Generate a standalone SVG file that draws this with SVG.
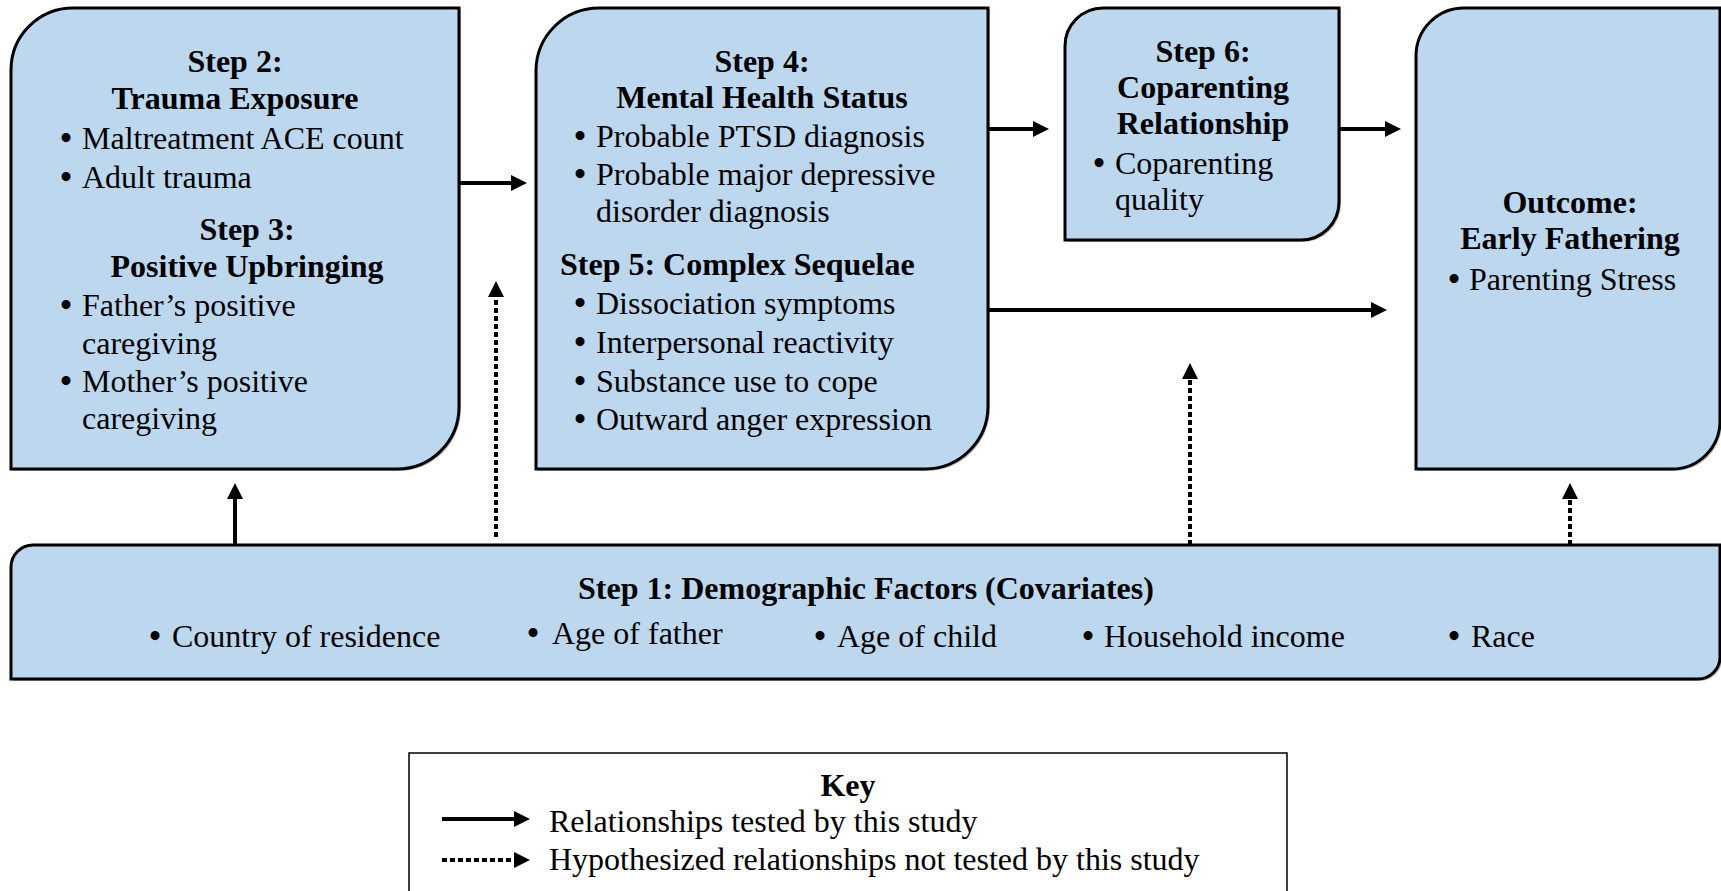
<svg xmlns="http://www.w3.org/2000/svg" width="1721" height="891" viewBox="0 0 1721 891">
<style>
.box{fill:#BDD7EE;stroke:#000;stroke-width:3}
.sh{fill:#7f7f7f;opacity:.55}
.h{font-family:"Liberation Serif","Times New Roman",serif;font-size:32px;font-weight:bold;text-anchor:middle;fill:#000}
.hs{font-family:"Liberation Serif","Times New Roman",serif;font-size:32px;font-weight:bold;fill:#000}
.t{font-family:"Liberation Serif","Times New Roman",serif;font-size:32px;fill:#000}
.b{font-family:"Liberation Serif","Times New Roman",serif;font-size:33px;font-weight:bold;text-anchor:middle;fill:#000}
.c{stroke:#000;stroke-width:4;fill:none}
.d{stroke-dasharray:5 3}
</style>
<defs>
<marker id="ah" viewBox="0 0 16 16" refX="2" refY="8" markerWidth="16" markerHeight="16" markerUnits="userSpaceOnUse" orient="auto">
<path d="M0,0 L16,8 L0,16 Z" fill="#000"/>
</marker>
</defs>
<rect x="0" y="0" width="1721" height="891" fill="#fff"/>

<g id="step2-3">
<path class="sh" transform="translate(2,2)" d="M11,70 A62,62 0 0 1 73,8 L459,8 L459,407 A62,62 0 0 1 397,469 L11,469 Z"/>
<path class="box" d="M11,70 A62,62 0 0 1 73,8 L459,8 L459,407 A62,62 0 0 1 397,469 L11,469 Z"/>
<text class="h" x="235" y="72">Step 2:</text>
<text class="h" x="235" y="109">Trauma Exposure</text>
<text class="b" x="66" y="149">•</text><text class="t" x="82" y="149">Maltreatment ACE count</text>
<text class="b" x="66" y="188">•</text><text class="t" x="82" y="188">Adult trauma</text>
<text class="h" x="247" y="240">Step 3:</text>
<text class="h" x="247" y="277">Positive Upbringing</text>
<text class="b" x="66" y="316">•</text><text class="t" x="82" y="316">Father’s positive</text>
<text class="t" x="82" y="354">caregiving</text>
<text class="b" x="66" y="392">•</text><text class="t" x="82" y="392">Mother’s positive</text>
<text class="t" x="82" y="429">caregiving</text>
</g>

<g id="step4-5">
<path class="sh" transform="translate(2,2)" d="M536,71 A63,63 0 0 1 599,8 L988,8 L988,406 A63,63 0 0 1 925,469 L536,469 Z"/>
<path class="box" d="M536,71 A63,63 0 0 1 599,8 L988,8 L988,406 A63,63 0 0 1 925,469 L536,469 Z"/>
<text class="h" x="762" y="72">Step 4:</text>
<text class="h" x="762" y="108">Mental Health Status</text>
<text class="b" x="580" y="147">•</text><text class="t" x="596" y="147">Probable PTSD diagnosis</text>
<text class="b" x="580" y="185">•</text><text class="t" x="596" y="185">Probable major depressive</text>
<text class="t" x="596" y="222">disorder diagnosis</text>
<text class="hs" x="560" y="275">Step 5: Complex Sequelae</text>
<text class="b" x="580" y="314">•</text><text class="t" x="596" y="314">Dissociation symptoms</text>
<text class="b" x="580" y="353">•</text><text class="t" x="596" y="353">Interpersonal reactivity</text>
<text class="b" x="580" y="392">•</text><text class="t" x="596" y="392">Substance use to cope</text>
<text class="b" x="580" y="430">•</text><text class="t" x="596" y="430">Outward anger expression</text>
</g>

<g id="step6">
<path class="sh" transform="translate(2,2)" d="M1065,46 A38,38 0 0 1 1103,8 L1339,8 L1339,202 A38,38 0 0 1 1301,240 L1065,240 Z"/>
<path class="box" d="M1065,46 A38,38 0 0 1 1103,8 L1339,8 L1339,202 A38,38 0 0 1 1301,240 L1065,240 Z"/>
<text class="h" x="1203" y="62">Step 6:</text>
<text class="h" x="1203" y="98">Coparenting</text>
<text class="h" x="1203" y="134">Relationship</text>
<text class="b" x="1099" y="174">•</text><text class="t" x="1115" y="174">Coparenting</text>
<text class="t" x="1115" y="210">quality</text>
</g>

<g id="outcome">
<path class="sh" transform="translate(2,2)" d="M1416,56 A48,48 0 0 1 1464,8 L1720,8 L1720,421 A48,48 0 0 1 1672,469 L1416,469 Z"/>
<path class="box" d="M1416,56 A48,48 0 0 1 1464,8 L1720,8 L1720,421 A48,48 0 0 1 1672,469 L1416,469 Z"/>
<text class="h" x="1570" y="213">Outcome:</text>
<text class="h" x="1570" y="249">Early Fathering</text>
<text class="b" x="1454" y="290">•</text><text class="t" x="1469" y="290">Parenting Stress</text>
</g>

<g id="step1">
<path class="sh" transform="translate(2,2)" d="M11,567 A22,22 0 0 1 33,545 L1720,545 L1720,657 A22,22 0 0 1 1698,679 L11,679 Z"/>
<path class="box" d="M11,567 A22,22 0 0 1 33,545 L1720,545 L1720,657 A22,22 0 0 1 1698,679 L11,679 Z"/>
<text class="h" x="866" y="599">Step 1: Demographic Factors (Covariates)</text>
<text class="b" x="155" y="647">•</text><text class="t" x="172" y="647">Country of residence</text>
<text class="b" x="533" y="644">•</text><text class="t" x="552" y="644">Age of father</text>
<text class="b" x="820" y="647">•</text><text class="t" x="837" y="647">Age of child</text>
<text class="b" x="1088" y="647">•</text><text class="t" x="1104" y="647">Household income</text>
<text class="b" x="1454" y="647">•</text><text class="t" x="1471" y="647">Race</text>
</g>

<g id="connectors">
<line class="c" x1="459" y1="183" x2="513" y2="183" marker-end="url(#ah)"/>
<line class="c" x1="988" y1="129" x2="1035" y2="129" marker-end="url(#ah)"/>
<line class="c" x1="1339" y1="129" x2="1387" y2="129" marker-end="url(#ah)"/>
<line class="c" x1="988" y1="310" x2="1373" y2="310" marker-end="url(#ah)"/>
<line class="c" x1="235" y1="545" x2="235" y2="497" marker-end="url(#ah)"/>
<line class="c d" x1="496" y1="537" x2="496" y2="295" marker-end="url(#ah)"/>
<line class="c d" x1="1190" y1="545" x2="1190" y2="377" marker-end="url(#ah)"/>
<line class="c d" x1="1570" y1="545" x2="1570" y2="497" marker-end="url(#ah)"/>
</g>

<g id="key">
<rect x="409" y="753" width="878" height="160" fill="#fff" stroke="#000" stroke-width="1.5"/>
<text class="h" x="848" y="796">Key</text>
<line class="c" x1="442" y1="819" x2="516" y2="819" marker-end="url(#ah)"/>
<text class="t" x="549" y="832">Relationships tested by this study</text>
<line class="c d" x1="442" y1="860" x2="516" y2="860" marker-end="url(#ah)"/>
<text class="t" x="549" y="870">Hypothesized relationships not tested by this study</text>
</g>
</svg>
